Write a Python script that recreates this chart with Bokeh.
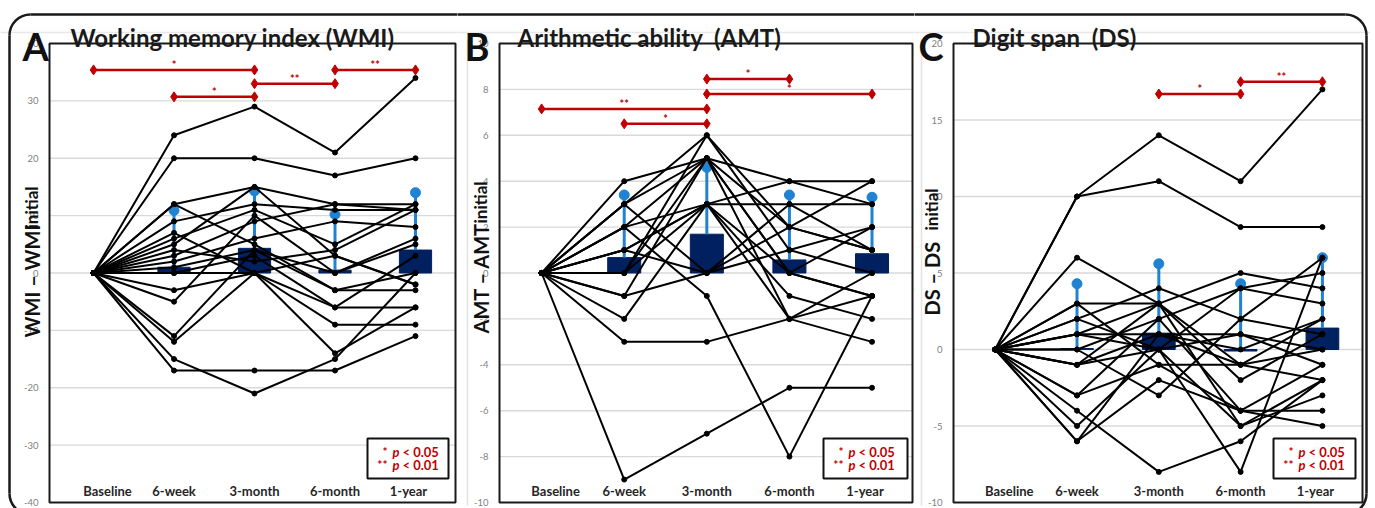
import math
from bokeh.plotting import figure
from bokeh.models import Range1d
from bokeh.layouts import row
from bokeh.core.properties import value
from bokeh.embed import file_html
from bokeh.resources import INLINE

# ---------------- data ----------------
timepoints = ["Baseline", "6-week", "3-month", "6-month", "1-year"]
positions = [0, 1, 2, 3, 4]

# Panel A: Working memory index (change from baseline per subject)
wmi_subjects = [
    [0, 24, 29, 21, 34],
    [0, 20, 20, 17, 20],
    [0, 12, 15, 12, 12],
    [0, 12, 5, -3, 0],
    [0, 9, 12, 11, 11],
    [0, 6, 11, 5, 12],
    [0, 5, 15, 3, -2],
    [0, 3, 9, 12, 11],
    [0, 2, 6, 9, 8],
    [0, 1, 4, 0, 6],
    [0, 0, 3, -6, -6],
    [0, -3, 0, -9, -9],
    [0, -5, 10, 0, 5],
    [0, -11, 4, -3, -3],
    [0, -12, 0, -14, -6],
    [0, -15, -21, -15, 0],
    [0, -17, -17, -17, -11],
    [0, 7, 0, -6, 3],
    [0, 4, 2, 4, 11],
    [0, 0, 0, 3, -2],
]
wmi_mean = [1.0, 4.3, 0.5, 4.0]          # 6-week .. 1-year
wmi_err_top = [10.9, 14.3, 10.2, 14.0]
wmi_sig = [(0, 2, 35.4, "*"), (3, 4, 35.4, "**"), (2, 3, 33.0, "**"), (1, 2, 30.7, "*")]
wmi_ticks = [-40, -30, -20, -10, 0, 10, 20, 30, 40]

# Panel B: Arithmetic ability
amt_subjects = [
    [0, -9, -7, -5, -5],
    [0, -3, -3, -2, 0],
    [0, 4, 5, 4, 4],
    [0, 3, 6, 2, 1],
    [0, 2, 5, 0, -1],
    [0, 1, 3, 3, 3],
    [0, 0, 3, -1, -2],
    [0, -1, 5, 2, 4],
    [0, -2, 3, -2, -3],
    [0, 3, 0, 1, 2],
    [0, 2, -1, -8, -1],
    [0, 1, 3, 0, 2],
    [0, 0, 6, 1, 0],
    [0, -1, 0, 3, 1],
    [0, 3, 5, -2, -1],
    [0, 2, 3, 4, 3],
    [0, 1, 0, 2, 1],
    [0, 0, 5, 0, -1],
]
amt_mean = [0.67, 1.69, 0.57, 0.84]
amt_err_top = [3.4, 4.6, 3.4, 3.3]
amt_sig = [(0, 2, 7.15, "**"), (1, 2, 6.5, "*"), (2, 3, 8.45, "*"), (2, 4, 7.8, "*")]
amt_ticks = [-10, -8, -6, -4, -2, 0, 2, 4, 6, 8, 10]

# Panel C: Digit span
ds_subjects = [
    [0, 10, 14, 11, 17],
    [0, 10, 11, 8, 8],
    [0, 6, 3, -1, -2],
    [0, 3, 3, 5, 4],
    [0, 3, -1, -4, -5],
    [0, 2, 4, 2, 6],
    [0, 1, 0, 4, 5],
    [0, 1, 3, -2, 1],
    [0, 0, 2, -4, -4],
    [0, -1, 1, 0, 2],
    [0, -1, 3, -5, -3],
    [0, -3, -1, -1, 0],
    [0, -3, 2, 4, 3],
    [0, -4, -8, -6, -2],
    [0, -5, 0, -8, 6],
    [0, -6, 1, 1, -1],
    [0, -6, -2, -4, -1],
    [0, 2, 0, -5, -2],
    [0, 0, -3, 2, 1],
    [0, 1, 1, -1, 2],
    [0, -1, 0, 1, 0],
]
ds_mean = [0.06, 1.07, -0.1, 1.4]
ds_err_top = [4.3, 5.6, 4.3, 6.0]
ds_sig = [(2, 3, 16.7, "*"), (3, 4, 17.5, "**")]
ds_ticks = [-10, -5, 0, 5, 10, 15, 20]

# ---------------- styling / layout (page pixels) ----------------
FONT = "Lato"
RED = "#c00000"
NAVY = "#002060"
BLUE = "#1f82d2"
H = 508
FT, FB = 43, 502               # inner plot frame top / bottom
BORDER = dict(left=9, right=1366, top=14, bottom=514, r=21)


def make_panel(CL, W, FL, FR, xr, yr, ticks, subjects, means, errs, sigs,
               title, title_x, letter, letter_x, ylab_main, ylab_sub, ylab_x,
               ylab_y0, ylab_y1, box_l, box_r, faint_x=None):
    xr0, xr1 = xr
    yr0, yr1 = yr
    sx = (FR - FL) / (xr1 - xr0)
    sy = (FB - FT) / (yr1 - yr0)

    def X(px):
        return xr0 + (px - FL) / sx

    def Y(py):
        return yr1 - (py - FT) / sy

    p = figure(width=W, height=H, x_range=Range1d(X(CL), X(CL + W)),
               y_range=Range1d(Y(H), Y(0)), output_backend="svg",
               toolbar_location=None, x_axis_location=None, y_axis_location=None,
               min_border=0)
    p.grid.visible = False
    p.outline_line_color = None
    p.background_fill_color = "white"
    p.border_fill_color = "white"

    # faint residual lines of the original figure
    p.segment(x0=[X(CL)], y0=[Y(32)], x1=[X(CL + W)], y1=[Y(32)],
              line_color="#e8e8e8", line_width=1.5)
    if faint_x is not None:
        p.segment(x0=[X(faint_x)], y0=[Y(40)], x1=[X(faint_x)], y1=[Y(505)],
                  line_color="#e3e3e3", line_width=1.5)

    # grid lines + tick labels
    inner = [t for t in ticks if yr0 < t < yr1]
    p.segment(x0=[xr0] * len(inner), y0=inner, x1=[xr1] * len(inner), y1=inner,
              line_color="#d9d9d9", line_width=1.4)
    p.text(x=[X(FL - 11)] * len(ticks), y=ticks, text=[str(t) for t in ticks],
           text_align="right", text_baseline="middle", text_color="#7f7f7f",
           text_font=value(FONT), text_font_size="9.5px")

    # mean bars
    bx = positions[1:]
    p.vbar(x=bx, top=means, bottom=0, width=0.4, fill_color=NAVY, line_color=NAVY)
    # upper error bars
    p.segment(x0=bx, y0=[max(m, 0) for m in means], x1=bx, y1=errs,
              line_color=BLUE, line_width=3)
    p.scatter(x=bx, y=errs, marker="circle", size=10, fill_color=BLUE, line_color=BLUE)

    # individual subject trajectories
    p.multi_line(xs=[positions for _ in subjects], ys=subjects,
                 line_color="black", line_width=2)
    allx = [x for s in subjects for x in positions]
    ally = [v for s in subjects for v in s]
    p.scatter(x=allx, y=ally, marker="circle", size=5, fill_color="black", line_color="black")

    # significance brackets
    for (i0, i1, yv, stars) in sigs:
        p.segment(x0=[i0], y0=[yv], x1=[i1], y1=[yv], line_color=RED, line_width=2.5)
        p.scatter(x=[i0, i1], y=[yv, yv], marker="diamond", size=10,
                  fill_color=RED, line_color=RED)
        p.text(x=[(i0 + i1) / 2], y=[yv], text=[stars], text_align="center",
               text_baseline="bottom", y_offset=1, text_color=RED,
               text_font=value(FONT), text_font_size="11px", text_font_style="bold")

    # x category labels (inside the frame)
    lab_shift = [14, 0, 0, 0, -7]
    p.text(x=[pos + d / sx for pos, d in zip(positions, lab_shift)], y=[Y(490)] * 5,
           text=timepoints, text_align="center", text_baseline="middle",
           text_color="#262626", text_font=value(FONT), text_font_size="13px",
           text_font_style="bold")

    # inner frame
    p.quad(left=[xr0], right=[xr1], bottom=[yr0], top=[yr1], fill_color=None,
           line_color="#1a1a1a", line_width=2)

    # p-value legend box
    p.quad(left=[X(box_l)], right=[X(box_r)], bottom=[Y(478)], top=[Y(438)],
           fill_color="white", line_color="#111111", line_width=2)
    for stars, rest, py in (("*", "< 0.05", 451), ("**", "< 0.01", 464)):
        p.text(x=[X(box_l + 20)], y=[Y(py)], text=[stars], text_align="right",
               text_baseline="middle", text_color=RED, text_font=value(FONT),
               text_font_size="12px", text_font_style="bold")
        p.text(x=[X(box_l + 25)], y=[Y(py)], text=["p"], text_align="left",
               text_baseline="middle", text_color=RED, text_font=value(FONT),
               text_font_size="13px", text_font_style="bold italic")
        p.text(x=[X(box_l + 35)], y=[Y(py)], text=[rest], text_align="left",
               text_baseline="middle", text_color=RED, text_font=value(FONT),
               text_font_size="13px", text_font_style="bold")

    # title, panel letter, y-axis label
    p.text(x=[X(title_x)], y=[Y(37)], text=[title], text_align="left",
           text_baseline="alphabetic", text_color="#1a1a1a", text_font=value(FONT),
           text_font_size="24px", text_font_style="bold")
    p.text(x=[X(letter_x)], y=[Y(45)], text=[letter], text_align="left",
           text_baseline="alphabetic", text_color="#111111", text_font=value(FONT),
           text_font_size="38px", text_font_style="bold")
    p.text(x=[X(ylab_x)], y=[Y(ylab_y0)], text=[ylab_main], angle=math.pi / 2,
           text_align="left", text_baseline="alphabetic", text_color="#111111",
           text_font=value(FONT), text_font_size="20px", text_font_style="bold")
    p.text(x=[X(ylab_x)], y=[Y(ylab_y1)], text=[ylab_sub], angle=math.pi / 2,
           text_align="left", text_baseline="alphabetic", text_color="#111111",
           text_font=value(FONT), text_font_size="17px", text_font_style="bold")

    # outer rounded border (each panel draws the part that falls on its canvas)
    b = BORDER
    r = b["r"]
    bc, bw = "#1a1a1a", 2.5
    p.segment(x0=[X(b["left"] + r), X(b["left"] + r), X(b["left"]), X(b["right"])],
              y0=[Y(b["top"]), Y(b["bottom"]), Y(b["top"] + r), Y(b["top"] + r)],
              x1=[X(b["right"] - r), X(b["right"] - r), X(b["left"]), X(b["right"])],
              y1=[Y(b["top"]), Y(b["bottom"]), Y(b["bottom"] - r), Y(b["bottom"] - r)],
              line_color=bc, line_width=bw)
    p.arc(x=[X(b["left"] + r), X(b["left"] + r), X(b["right"] - r), X(b["right"] - r)],
          y=[Y(b["top"] + r), Y(b["bottom"] - r), Y(b["top"] + r), Y(b["bottom"] - r)],
          radius=r, radius_units="screen",
          start_angle=[math.pi / 2, math.pi, 0, 1.5 * math.pi],
          end_angle=[math.pi, 1.5 * math.pi, math.pi / 2, 2 * math.pi],
          line_color=bc, line_width=bw)
    return p


pA = make_panel(0, 457, 49, 455, (-0.547, 4.497), (-40, 40), wmi_ticks,
                wmi_subjects, wmi_mean, wmi_err_top, wmi_sig,
                "Working memory index (WMI)", 70, "A", 22,
                "WMI \u2013 WMI", "initial", 31, 337, 228, 367, 448)
pB = make_panel(457, 457, 499, 912, (-0.51, 4.49), (-10, 10), amt_ticks,
                amt_subjects, amt_mean, amt_err_top, amt_sig,
                "Arithmetic ability\u00a0 (AMT)", 517, "B", 464,
                "AMT \u2013 AMT", "initial", 480, 333, 223, 823, 907, faint_x=467)
pC = make_panel(914, 456, 953, 1362, (-0.51, 4.49), (-10, 20), ds_ticks,
                ds_subjects, ds_mean, ds_err_top, ds_sig,
                "Digit span\u00a0 (DS)", 972, "C", 918,
                "DS \u2013 DS", "initial", 931, 315, 230, 1273, 1355, faint_x=921)

layout = row(pA, pB, pC)

open("out.html", "w").write(file_html(layout, INLINE))
